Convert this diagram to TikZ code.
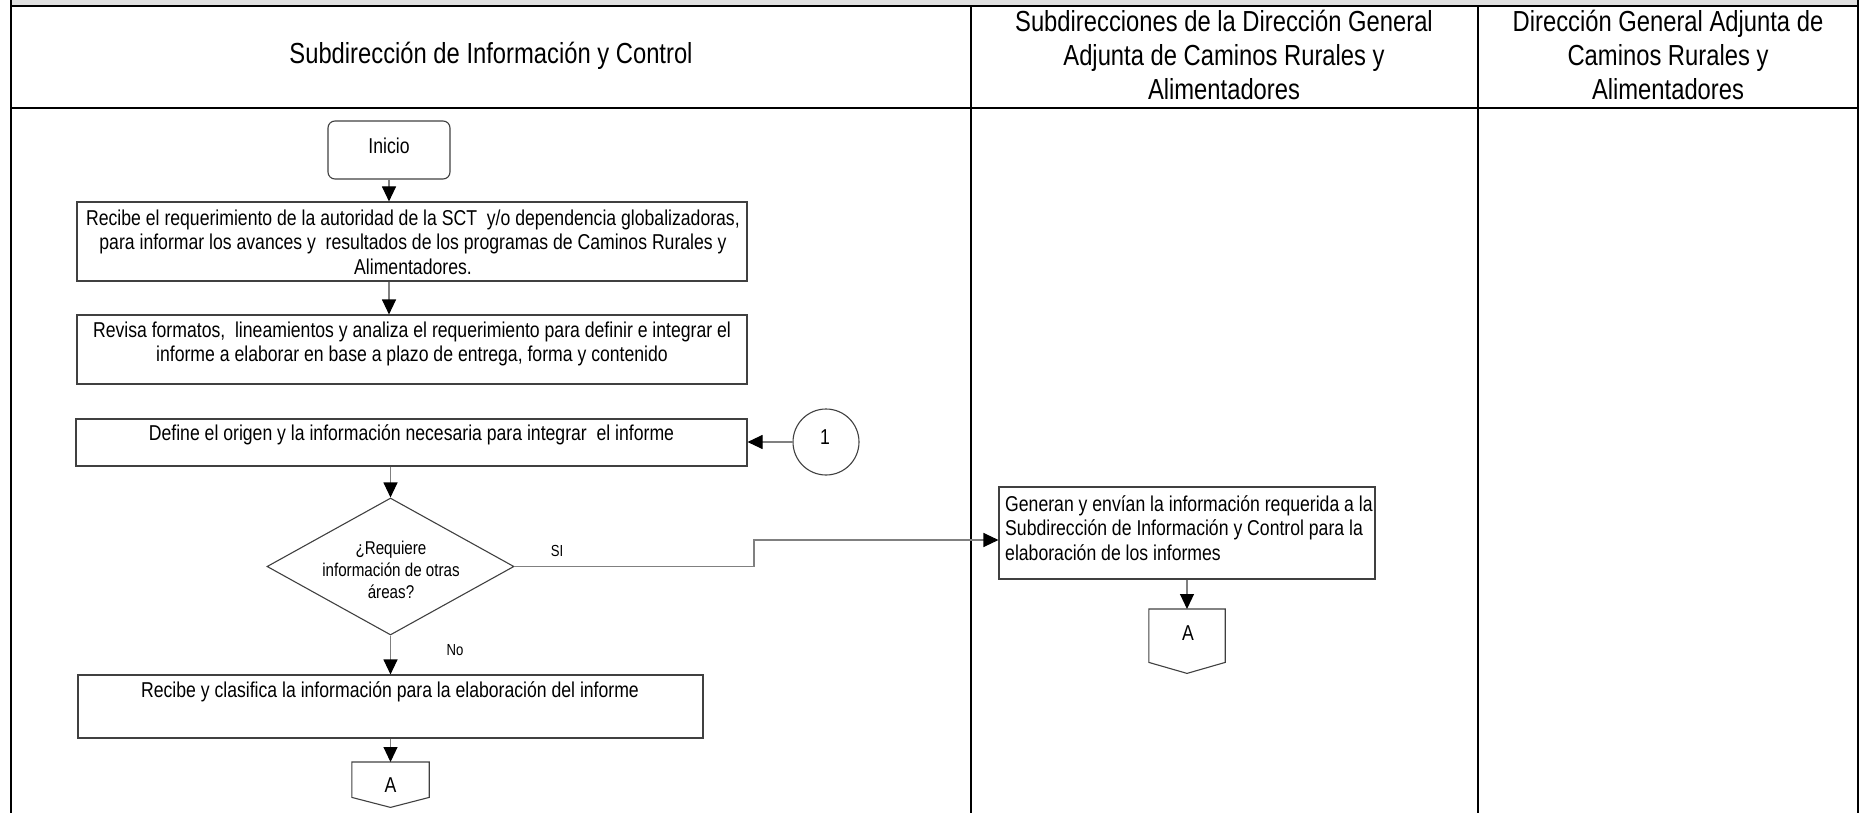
\documentclass[tikz,border=0pt]{standalone}
\usepackage{fontspec}
\setmainfont{Liberation Sans}[FakeStretch=0.82]
\usetikzlibrary{arrows.meta,shapes.geometric,calc}
\newcommand\fHead{\fontsize{29}{34}\selectfont}
\newcommand\fBody{\fontsize{21.5}{24.5}\selectfont}
\newcommand\fDia{\fontsize{18.5}{22}\selectfont}
\newcommand\fLab{\fontsize{16}{19}\selectfont}
\tikzset{
  frame/.style={line width=2.2pt, draw=black},
  box/.style={draw=black!75, line width=1.1pt, inner sep=0pt, rectangle},
  dia/.style={draw=black!75, line width=1.1pt, inner sep=0pt, shape=diamond},
  flow/.style={draw=black!50, line width=1.1pt, -{Triangle[length=15pt,width=14pt,color=black]}},
  head/.style={inner sep=0pt, align=center, font=\fHead},
  txt/.style={inner sep=0pt, align=center, font=\fBody},
  lab/.style={inner sep=0pt, font=\fLab},
  shell/.style={inner sep=0pt, rectangle}
}
\begin{document}
\begin{tikzpicture}[x=1pt,y=-1pt]
\useasboundingbox (0,0) rectangle (1869,813);
% frame and lanes
\fill[black!12] (11,0) rectangle (1858,6);
\draw[frame] (11,6) -- (1858,6);
\draw[frame] (11,108) -- (1858,108);
\draw[frame] (11,0) -- (11,813);
\draw[frame] (1858,0) -- (1858,813);
\draw[frame] (971,6) -- (971,813);
\draw[frame] (1478,6) -- (1478,813);
% headers
\node[head] (h1) at (491,56) {Subdirección de Información y Control};
\node[head] (h2) at (1224,55) {Subdirecciones de la Dirección General\\Adjunta de Caminos Rurales y\\Alimentadores};
\node[head] (h3) at (1668,55) {Dirección General Adjunta de\\Caminos Rurales y\\Alimentadores};
% start
\node[box, rounded corners=7pt, minimum width=122pt, minimum height=58pt] (ini) at (389,150) {};
\node[txt] (init) at (389,146) {Inicio};
% boxes
\node[box, minimum width=670pt, minimum height=79pt] (b1) at (412,241.5) {};
\node[txt] (b1t) at (413,242) {Recibe el requerimiento de la autoridad de la SCT\ \ y/o dependencia globalizadoras,\\para informar los avances y\ \ resultados de los programas de Caminos Rurales y\\Alimentadores.};
\node[box, minimum width=670pt, minimum height=69pt] (b2) at (412,349.5) {};
\node[txt] (b2t) at (412,344) {Revisa formatos,\ \ lineamientos y analiza el requerimiento para definir e integrar el\\informe a elaborar en base a plazo de entrega, forma y contenido};
\node[box, minimum width=671pt, minimum height=47pt] (b3) at (411.5,442.5) {};
\node[txt] (b3t) at (411.5,435) {Define el origen y la información necesaria para integrar\ \ el informe};
\node[box, circle, minimum size=66pt] (c1) at (826,442) {};
\node[txt] (c1t) at (825,437) {1};
\node[dia, minimum width=247pt, minimum height=137pt] (d) at (390.5,566.5) {};
\node[txt, font=\fDia] (dt) at (391,570) {¿Requiere\\información de otras\\áreas?};
\node[box, minimum width=625pt, minimum height=63pt] (b4) at (390.5,706.5) {};
\node[txt] (b4t) at (390,692) {Recibe y clasifica la información para la elaboración del informe};
\node[box, minimum width=376pt, minimum height=92pt] (gen) at (1187,533) {};
\node[txt, align=left, anchor=west] (gent) at (1005,528) {Generan y envían la información requerida a la\\Subdirección de Información y Control para la\\elaboración de los informes};
% off-page connectors
\node[shell, minimum width=77pt, minimum height=45pt, anchor=north] (a1) at (390.5,762) {};
\draw[box] (a1.north west) -- (a1.north east) -- ([yshift=10pt]a1.south east) -- (a1.south) -- ([yshift=10pt]a1.south west) -- cycle;
\node[txt] (a1t) at (390.5,785) {A};
\node[shell, minimum width=76pt, minimum height=64pt, anchor=north] (a2) at (1187,609) {};
\draw[box] (a2.north west) -- (a2.north east) -- ([yshift=11pt]a2.south east) -- (a2.south) -- ([yshift=11pt]a2.south west) -- cycle;
\node[txt] (a2t) at (1188,633) {A};
% connectors
\draw[flow] (ini.south) -- (ini.south |- b1.north);
\draw[flow] (ini.south |- b1.south) -- (ini.south |- b2.north);
\draw[flow] (c1.west) -- (c1.west -| b3.east);
\draw[flow] (d.north |- b3.south) -- (d.north);
\coordinate (bend) at (754,540);
\draw[flow] (d.east) -| (bend) -- (bend -| gen.west);
\node[lab] (si) at (557,551) {SI};
\draw[flow] (d.south) -- (d.south |- b4.north);
\node[lab] (no) at (455,650) {No};
\draw[flow] (d.south |- b4.south) -- (a1.north);
\draw[flow] (gen.south) -- (a2.north);
\end{tikzpicture}
\end{document}
